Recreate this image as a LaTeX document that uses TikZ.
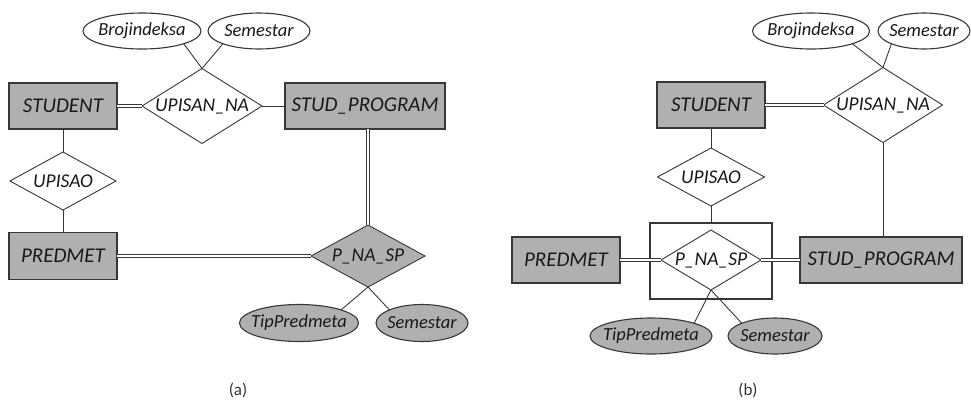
\documentclass[tikz,border=0pt]{standalone}
\usepackage{fontspec}
\setmainfont{Carlito}
\usetikzlibrary{shapes.geometric}
\definecolor{erfill}{RGB}{176,176,176}
\definecolor{erline}{RGB}{55,55,55}
\tikzset{
  base/.style={inner sep=0pt, outer sep=0pt, text=black!90},
  entity/.style={base, rectangle, draw=erline, line width=1.6pt, fill=erfill,
    font=\fontsize{21}{24}\selectfont\itshape},
  rel/.style={base, diamond, draw=erline, line width=0.9pt, fill=white,
    font=\fontsize{19.5}{22}\selectfont\itshape},
  relgray/.style={rel, fill=erfill},
  attr/.style={base, ellipse, draw=erline, line width=1.1pt, fill=white,
    font=\fontsize{18.5}{21}\selectfont\itshape},
  attrgray/.style={attr, fill=erfill},
  aggbox/.style={base, rectangle, draw=erline, line width=1.1pt},
  conn/.style={draw=erline, line width=0.9pt},
  dbl/.style={draw=erline, line width=0.9pt, double=white, double distance=2.4pt},
  caption/.style={base, font=\fontsize{17}{20}\selectfont, text=black!80}
}
\newcommand{\tx}[1]{\makebox[0pt]{#1}}
\begin{document}
\begin{tikzpicture}[x=1pt, y=-1pt]
\useasboundingbox (0,0) rectangle (971,400);

% ---------- (a) ----------
\node[attr, minimum width=118pt, minimum height=36pt] (broA) at (142,31) {\tx{Brojindeksa}};
\node[attr, minimum width=102pt, minimum height=36pt] (semA) at (259,31) {\tx{Semestar}};
\node[rel, minimum width=120pt, minimum height=75pt] (upnaA) at (202,106) {\tx{UPISAN\_NA}};
\node[entity, minimum width=108pt, minimum height=46pt] (studA) at (63,106) {\tx{STUDENT}};
\node[entity, minimum width=160pt, minimum height=46pt] (spA) at (365,106) {\tx{STUD\_PROGRAM}};
\node[rel, minimum width=106pt, minimum height=58pt] (upA) at (63,181) {\tx{UPISAO}};
\node[entity, minimum width=108pt, minimum height=47pt] (predA) at (63,256) {\tx{PREDMET}};
\node[relgray, minimum width=114pt, minimum height=62pt] (pnsA) at (368,256) {\tx{P\_NA\_SP}};
\node[attrgray, minimum width=119pt, minimum height=37pt] (tipA) at (299,323) {\tx{TipPredmeta}};
\node[attrgray, minimum width=92pt, minimum height=37pt] (sem2A) at (422,323) {\tx{Semestar}};
\node[caption] (capA) at (238,390) {(a)};

\draw[conn] (broA.south east) -- (upnaA.north);
\draw[conn] (semA.south west) -- (upnaA.north);
\draw[dbl] (studA.east) -- (upnaA.west);
\draw[conn] (upnaA.east) -- (spA.west);
\draw[conn] (studA.south) -- (upA.north);
\draw[conn] (upA.south) -- (predA.north);
\draw[dbl] (predA.east) -- (pnsA.west);
\draw[dbl] (pnsA.north |- spA.south) -- (pnsA.north);
\draw[conn] (pnsA.south) -- (tipA.north east);
\draw[conn] (pnsA.south) -- (sem2A.north west);

% ---------- (b) ----------
\node[aggbox, minimum width=122pt, minimum height=76pt] (agg) at (711,261) {};
\node[attr, minimum width=117pt, minimum height=36pt] (broB) at (811,31) {\tx{Brojindeksa}};
\node[attr, minimum width=92pt, minimum height=36pt] (semB) at (924,31) {\tx{Semestar}};
\node[rel, minimum width=119pt, minimum height=75pt] (upnaB) at (883,105) {\tx{UPISAN\_NA}};
\node[entity, minimum width=108pt, minimum height=46pt] (studB) at (711,105) {\tx{STUDENT}};
\node[rel, minimum width=107pt, minimum height=58pt] (upB) at (711,177) {\tx{UPISAO}};
\node[rel, minimum width=100pt, minimum height=60pt] (pnsB) at (711,260) {\tx{P\_NA\_SP}};
\node[entity, minimum width=108pt, minimum height=46pt] (predB) at (566,260) {\tx{PREDMET}};
\node[entity, minimum width=162pt, minimum height=46pt] (spB) at (881,260) {\tx{STUD\_PROGRAM}};
\node[attrgray, minimum width=122pt, minimum height=36pt] (tipB) at (651,336) {\tx{TipPredmeta}};
\node[attrgray, minimum width=94pt, minimum height=36pt] (sem2B) at (775,336) {\tx{Semestar}};
\node[caption] (capB) at (748,390) {(b)};

\draw[conn] (broB.south east) -- (upnaB.north);
\draw[conn] (semB.south west) -- (upnaB.north);
\draw[dbl] (studB.east) -- (upnaB.west);
\draw[conn] (studB.south) -- (upB.north);
\draw[conn] (upB.south) -- (agg.north);
\draw[dbl] (predB.east) -- (pnsB.west);
\draw[dbl] (pnsB.east) -- (spB.west);
\draw[conn] (upnaB.south) -- (upnaB.south |- spB.north);
\draw[conn] (pnsB.south) -- (tipB.north east);
\draw[conn] (pnsB.south) -- (sem2B.north west);
\end{tikzpicture}
\end{document}
